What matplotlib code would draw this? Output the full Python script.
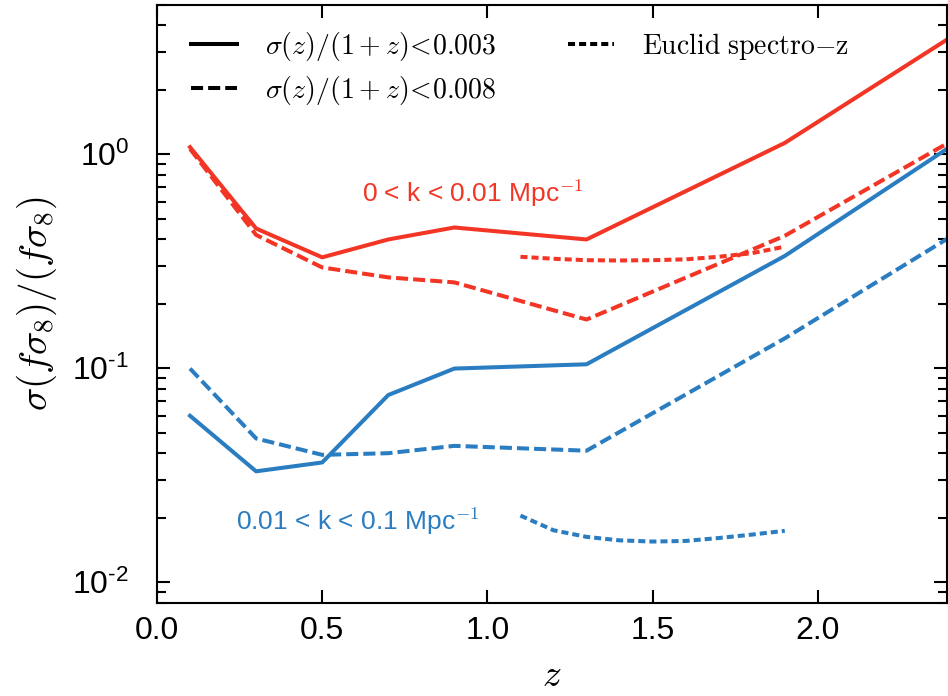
import matplotlib
matplotlib.use("Agg")
import matplotlib.pyplot as plt
from matplotlib.font_manager import FontProperties
from matplotlib.ticker import LogLocator, NullFormatter

plt.rcParams['font.family'] = ['Liberation Sans', 'DejaVu Sans']
plt.rcParams['mathtext.fontset'] = 'custom'
plt.rcParams['mathtext.rm'] = 'Liberation Sans'
plt.rcParams['mathtext.it'] = 'Liberation Sans:italic'

# redshift bins of the photometric forecasts
z_bins = [0.1, 0.3, 0.5, 0.7, 0.9, 1.3, 1.9, 2.5]
red_003 = [1.08, 0.45, 0.33, 0.40, 0.455, 0.40, 1.13, 4.4]
red_008 = [1.06, 0.42, 0.296, 0.266, 0.252, 0.169, 0.416, 1.40]
blue_003 = [0.060, 0.033, 0.0363, 0.075, 0.0997, 0.1044, 0.335, 1.37]
blue_008 = [0.0997, 0.047, 0.0394, 0.0401, 0.0434, 0.0412, 0.138, 0.51]

# Euclid spectroscopic survey
z_euclid = [1.1, 1.2, 1.3, 1.4, 1.5, 1.6, 1.7, 1.8, 1.9]
red_euclid = [0.332, 0.325, 0.320, 0.319, 0.320, 0.323, 0.332, 0.345, 0.370]
blue_euclid = [0.0205, 0.0175, 0.0163, 0.0157, 0.0155, 0.0156, 0.0161, 0.0167, 0.0174]

xticks = [0.0, 0.5, 1.0, 1.5, 2.0]
yticks = [0.01, 0.1, 1.0]
ylabels = [r'$10^{\text{-}2}$', r'$10^{\text{-}1}$', r'$10^{0}$']

RED = '#f23524'
BLUE = '#2a7dc1'
lw = 2.9
dash = (3.0, 1.25)
dot = (1.75, 1.0)

fig = plt.figure(figsize=(9.48, 6.96), dpi=100)
ax = fig.add_axes([0.1656, 0.1336, 0.833, 0.8596])

ax.plot(z_bins, red_003, color=RED, lw=lw)
ax.plot(z_bins, red_008, color=RED, lw=lw, dashes=dash)
ax.plot(z_euclid, red_euclid, color=RED, lw=lw, dashes=dot)
ax.plot(z_bins, blue_003, color=BLUE, lw=lw)
ax.plot(z_bins, blue_008, color=BLUE, lw=lw, dashes=dash)
ax.plot(z_euclid, blue_euclid, color=BLUE, lw=lw, dashes=dot)

# black legend handles
h1, = ax.plot([], [], color='k', lw=lw)
h2, = ax.plot([], [], color='k', lw=lw, dashes=dash)
h3, = ax.plot([], [], color='k', lw=lw, dashes=dot)
cm_leg = FontProperties(size=20, math_fontfamily='cm')
ax.legend([h1, h2, h3],
          [r'$\sigma(z)/(1+z)\!<\!0.003$', r'$\sigma(z)/(1+z)\!<\!0.008$',
           r'$\mathrm{Euclid\ spectro{-}z}$'],
          ncol=2, frameon=False, prop=cm_leg, loc='upper left',
          bbox_to_anchor=(0.012, 1.0), handlelength=1.65, handletextpad=1.0,
          columnspacing=2.6, labelspacing=0.4)

ax.text(0.62, 0.66, r'0 < k < 0.01 Mpc$^{-1}$', color=RED, fontsize=19,
        va='center', math_fontfamily='cm')
ax.text(0.24, 0.0194, r'0.01 < k < 0.1 Mpc$^{-1}$', color=BLUE, fontsize=19,
        va='center', math_fontfamily='cm')

ax.set_yscale('log')
ax.set_xlim(0, 2.39)
ax.set_ylim(0.008, 5)
ax.set_xticks(xticks, labels=['%.1f' % v for v in xticks])
ax.set_yticks(yticks, labels=ylabels)
ax.yaxis.set_minor_locator(LogLocator(base=10, subs=range(2, 10)))
ax.yaxis.set_minor_formatter(NullFormatter())
ax.tick_params(which='both', direction='in', top=True, right=True, width=1.5,
               labelsize=23)
ax.tick_params(axis='x', pad=9)
ax.tick_params(axis='y', pad=20)
ax.tick_params(which='major', length=9.5)
ax.tick_params(which='minor', length=6.5)
for s in ax.spines.values():
    s.set_linewidth(1.5)

ax.set_xlabel(r'$z$', fontsize=27, math_fontfamily='cm', va='bottom')
ax.xaxis.set_label_coords(0.5, -0.152)
ax.set_ylabel(r'$\sigma(f\sigma_8)/(f\sigma_8)$', fontsize=28,
              math_fontfamily='cm', labelpad=10)

fig.savefig('out.png', dpi=100)
